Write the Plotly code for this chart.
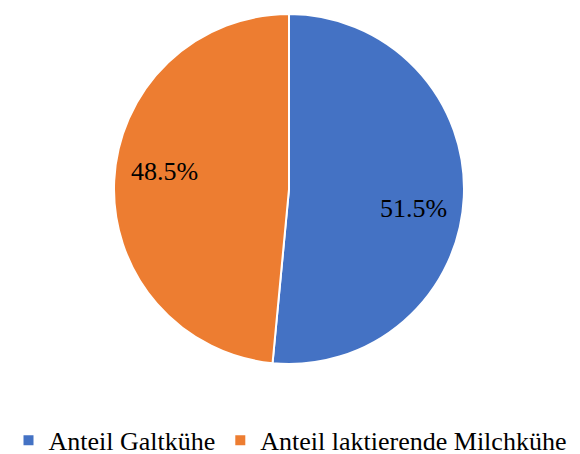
import math
import plotly.graph_objects as go

labels = ["Anteil Galtkühe", "Anteil laktierende Milchkühe"]
values = [51.5, 48.5]
text_labels = ["51.5%", "48.5%"]
colors = ["#4472C4", "#ED7D31"]

W, H = 580, 454
ML, MR, MT, MB = 0, 2, 14, 90
SERIF = "Liberation Serif"

fig = go.Figure(go.Pie(
    labels=labels,
    values=values,
    textinfo="none",
    sort=False,
    direction="clockwise",
    rotation=0,
    marker=dict(colors=colors, line=dict(color="white", width=2)),
    domain=dict(x=[0, 1], y=[0, 1]),
    hoverinfo="label+percent",
))

# data labels placed near the mid-angle of each slice
plot_w = W - ML - MR
plot_h = H - MT - MB
radius_px = min(plot_w, plot_h) / 2
total = sum(values)
cum = 0.0
for v, t in zip(values, text_labels):
    mid = (cum + v / 2) / total * 2 * math.pi
    cum += v
    ang = mid + (0.11 if math.sin(mid) > 0 else 0.09)
    dx = math.sin(ang) * radius_px * 0.72
    dy = math.cos(ang) * radius_px * 0.72
    fig.add_annotation(
        x=0.5 + dx / plot_w, y=0.5 + dy / plot_h,
        xref="paper", yref="paper",
        xanchor="center", yanchor="middle",
        text=t, showarrow=False,
        font=dict(family=SERIF, size=26, color="black"),
    )

fig.update_layout(
    width=W, height=H,
    margin=dict(l=ML, r=MR, t=MT, b=MB),
    paper_bgcolor="white",
    plot_bgcolor="white",
    font=dict(family=SERIF, color="black"),
    showlegend=True,
    legend=dict(
        orientation="h",
        xref="container", yref="container",
        x=0.5, xanchor="center",
        y=0.03, yanchor="middle",
        font=dict(family=SERIF, size=26, color="black"),
        itemsizing="constant",
        itemwidth=30,
    ),
)

fig.write_html("out.html")
